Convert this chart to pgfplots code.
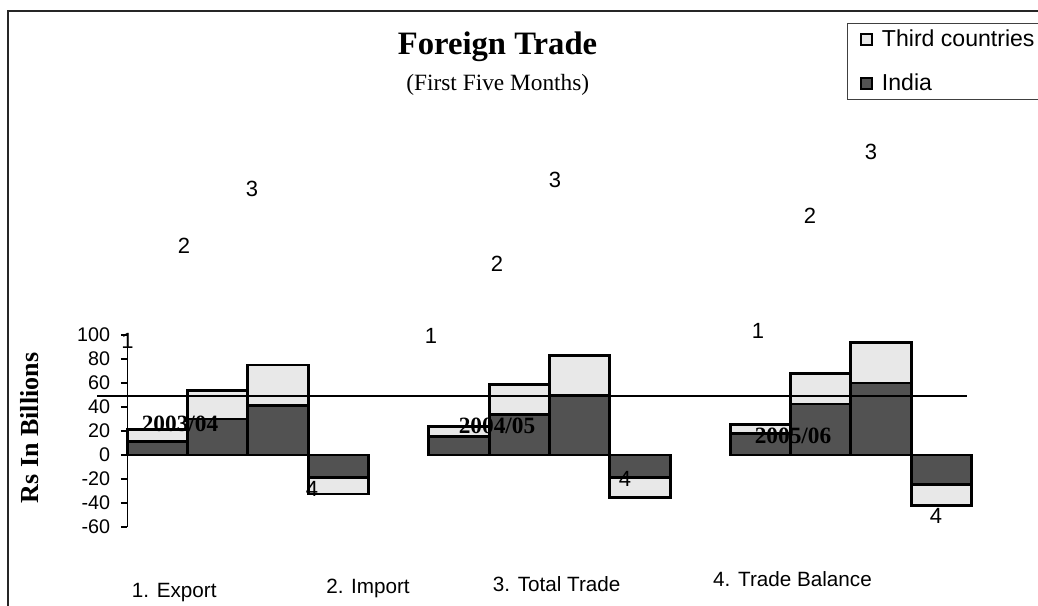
\documentclass[border=0pt]{standalone}
\usepackage{fontspec}
\setmainfont{Liberation Serif}
\setsansfont{Liberation Sans}
\usepackage{pgfplots}
\usepackage{pgfplotstable}
\pgfplotsset{compat=1.18}

% Rs billions, first five months; x = bar slot (groups of four bars per year)
\pgfplotstableread{
x  india third
0   11    10
1   30    23.5
2   41    34
3  -19   -13.5
5   15.3   8.3
6   34    25
7   49.3  33.3
8  -18.7 -16.7
10  18     7.5
11  42.5  25.5
12  60    33.5
13 -24.5 -17.5
}\trade

\newcommand\tickfont{\sffamily\fontsize{14.8}{14.8}\selectfont}
\newcommand\numfont{\sffamily\fontsize{16.5}{16.5}\selectfont}
\newcommand\catfont{\sffamily\fontsize{15.5}{15.5}\selectfont}
\newcommand\yearfont{\bfseries\fontsize{17.5}{17.5}\selectfont}

\begin{document}
\begin{tikzpicture}
\useasboundingbox (0pt,0pt) rectangle (778.5pt,454.5pt);
\begin{axis}[
  at={(95.5125pt,59.25pt)}, anchor=south west,
  x=45.225pt, y=0.9pt,
  xmin=-0.5, xmax=13.5, ymin=-60, ymax=100,
  enlargelimits=false,
  ybar stacked, bar width=1,
  axis y line*=left, axis x line=none,
  xtick=\empty,
  ytick={-60,-40,-20,0,20,40,60,80,100},
  yticklabels={-60,-40,-20,0,20,40,60,80,100},
  tick align=outside,
  major tick length=4.9pt,
  every tick/.style={black, line width=0.8pt},
  y axis line style={black, line width=1.1pt},
  yticklabel style={font=\tickfont, xshift=-4.5pt},
  clip=false,
  reverse legend,
  legend cell align=left,
  legend image code/.code={\draw[#1, line width=1.5pt] (0pt,-4.1pt) rectangle (8.2pt,4.1pt);},
  legend style={
    at={(0.8525,2.6266)}, anchor=north west,
    draw=black!75, line width=1pt,
    font=\sffamily\fontsize{17.3}{17.3}\selectfont,
    inner xsep=9pt, inner ysep=3pt,
    row sep=15pt, column sep=5pt,
  },
]
\addplot[fill=black!68, draw=black, line width=2.2pt] table[x=x, y=india] {\trade};
\addplot[fill=black!9, draw=black, line width=2.2pt] table[x=x, y=third] {\trade};
\legend{India, Third countries\hspace*{60pt}}
\end{axis}

% reference level line across the chart
\begin{axis}[
  at={(95.5125pt,59.25pt)}, anchor=south west,
  x=45.225pt, y=0.9pt,
  xmin=-0.5, xmax=13.5, ymin=-60, ymax=100,
  hide axis, clip=false,
]
\addplot[black, line width=1.1pt, mark=none] coordinates {(-1.003,49) (13.42,49)};
\end{axis}

\begin{scope}[x=0.75pt, y=-0.75pt, shift={(0pt,454.5pt)}]
  % chart frame
  \draw[black!85, line width=1.2pt] (8,610) -- (8,11) -- (1045,11);
  % titles
  \node[anchor=base, inner sep=0pt, font=\bfseries\fontsize{24.5}{24.5}\selectfont] at (497.5,55) {Foreign Trade};
  \node[anchor=base, inner sep=0pt, font=\fontsize{17.5}{17.5}\selectfont] at (497.8,90.7) {(First Five Months)};
  \node[anchor=base, rotate=90, inner sep=0pt, font=\bfseries\fontsize{19.5}{19.5}\selectfont] at (38.3,428) {Rs In Billions};
  % year labels
  \node[anchor=base, inner sep=0pt, font=\yearfont] at (180,431.7) {2003/04};
  \node[anchor=base, inner sep=0pt, font=\yearfont] at (497,433.3) {2004/05};
  \node[anchor=base, inner sep=0pt, font=\yearfont] at (793,443.3) {2005/06};
  % indicator numbers
  \foreach \xx/\yy/\tt in {127.5/348.3/1, 184/253.3/2, 252/196.7/3, 312/496.7/4,
                           431/343.3/1, 497/272/2, 555/188/3, 625/486.7/4,
                           758/338.3/1, 810/224/2, 871/160/3, 936/523.3/4}
    \node[anchor=base, inner sep=0pt, font=\numfont] at (\xx,\yy) {\tt};
  % indicator key
  \node[anchor=base, inner sep=0pt, font=\catfont] at (174.3,597.7) {1. Export};
  \node[anchor=base, inner sep=0pt, font=\catfont] at (368,593.3) {2. Import};
  \node[anchor=base, inner sep=0pt, font=\catfont] at (556.7,591.7) {3. Total Trade};
  \node[anchor=base, inner sep=0pt, font=\catfont] at (792.5,586.7) {4. Trade Balance};
\end{scope}
\end{tikzpicture}
\end{document}
